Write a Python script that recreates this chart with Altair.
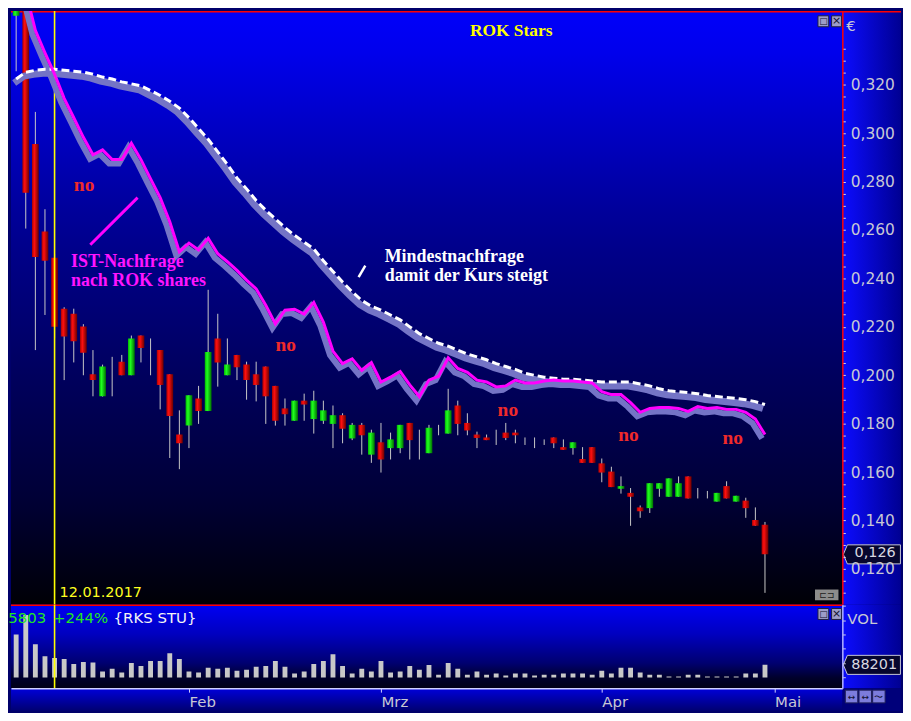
import altair as alt
import pandas as pd

# ---------------- data ----------------
# trading-day index, 0 = 12.01.2017 (cursor line)
days = list(range(-4, 75))

opens = [0.3485, 0.3537, 0.2955, 0.2594, 0.2485, 0.2275, 0.2254, 0.2201, 0.2004, 0.1913,
         0.2000, 0.2056, 0.2000, 0.2164, 0.2080, 0.2104, 0.2004, 0.1755, 0.1792, 0.1904,
         0.1852, 0.2152, 0.2000, 0.2084, 0.2044, 0.2004, 0.2036, 0.1956, 0.1863, 0.1812,
         0.1895, 0.1819, 0.1812, 0.1799, 0.1835, 0.1739, 0.1795, 0.1672, 0.1723, 0.1699,
         0.1699, 0.1803, 0.1720, 0.1678, 0.1770, 0.1759, 0.1875, 0.1803, 0.1755, 0.1743,
         0.1740, 0.1763, 0.1763, 0.1730, 0.1720, 0.1725, 0.1743, 0.1703, 0.1699, 0.1654,
         0.1703, 0.1636, 0.1602, 0.1531, 0.1514, 0.1454, 0.1451, 0.1531, 0.1498, 0.1498,
         0.1582, 0.1510, 0.1505, 0.1478, 0.1542, 0.1478, 0.1482, 0.1402, 0.1382]
highs = [0.3565, 0.3553, 0.3088, 0.2686, 0.2502, 0.2281, 0.2275, 0.2211, 0.2104, 0.2044,
         0.2076, 0.2084, 0.2164, 0.2164, 0.2152, 0.2104, 0.2004, 0.1855, 0.1917, 0.1956,
         0.2353, 0.2254, 0.2152, 0.2084, 0.2056, 0.2056, 0.2036, 0.1956, 0.1904, 0.1895,
         0.1924, 0.1936, 0.1895, 0.1875, 0.1843, 0.1803, 0.1803, 0.1775, 0.1803, 0.1763,
         0.1795, 0.1803, 0.1775, 0.1795, 0.1795, 0.1944, 0.1895, 0.1843, 0.1767, 0.1755,
         0.1775, 0.1803, 0.1775, 0.1743, 0.1743, 0.1735, 0.1743, 0.1735, 0.1723, 0.1703,
         0.1703, 0.1656, 0.1622, 0.1582, 0.1534, 0.1462, 0.1554, 0.1554, 0.1574, 0.1582,
         0.1582, 0.1534, 0.1522, 0.1514, 0.1562, 0.1502, 0.1494, 0.1454, 0.1394]
lows = [0.3256, 0.2606, 0.2104, 0.2249, 0.2152, 0.1980, 0.2053, 0.2000, 0.1913, 0.1912,
        0.1913, 0.2000, 0.2000, 0.2053, 0.2000, 0.1859, 0.1658, 0.1612, 0.1699, 0.1799,
        0.1852, 0.1953, 0.2000, 0.1980, 0.1899, 0.1892, 0.1799, 0.1792, 0.1792, 0.1812,
        0.1812, 0.1759, 0.1799, 0.1699, 0.1719, 0.1732, 0.1672, 0.1638, 0.1598, 0.1652,
        0.1678, 0.1652, 0.1652, 0.1678, 0.1752, 0.1759, 0.1752, 0.1752, 0.1699, 0.1732,
        0.1712, 0.1732, 0.1719, 0.1712, 0.1699, 0.1712, 0.1699, 0.1692, 0.1672, 0.1638,
        0.1638, 0.1558, 0.1538, 0.1511, 0.1378, 0.1411, 0.1431, 0.1498, 0.1498, 0.1498,
        0.1491, 0.1491, 0.1491, 0.1478, 0.1491, 0.1478, 0.1411, 0.1378, 0.1101]
closes = [0.3545, 0.2754, 0.2489, 0.2473, 0.2200, 0.2160, 0.2140, 0.2093, 0.1980, 0.2036,
          0.2000, 0.2000, 0.2152, 0.2113, 0.2080, 0.1960, 0.1832, 0.1719, 0.1917, 0.1852,
          0.2096, 0.2053, 0.2044, 0.2033, 0.1980, 0.1960, 0.1913, 0.1812, 0.1839, 0.1895,
          0.1879, 0.1895, 0.1855, 0.1835, 0.1779, 0.1795, 0.1752, 0.1763, 0.1652, 0.1735,
          0.1795, 0.1732, 0.1720, 0.1783, 0.1770, 0.1855, 0.1799, 0.1772, 0.1741, 0.1732,
          0.1740, 0.1741, 0.1752, 0.1730, 0.1720, 0.1725, 0.1719, 0.1692, 0.1723, 0.1638,
          0.1638, 0.1598, 0.1538, 0.1542, 0.1498, 0.1438, 0.1554, 0.1554, 0.1574, 0.1554,
          0.1491, 0.1510, 0.1505, 0.1514, 0.1491, 0.1502, 0.1451, 0.1378, 0.1260]
volumes = [300000, 436000, 233000, 149000, 136000, 129000, 95000, 109000, 104000, 41000,
           61000, 34000, 102000, 81000, 115000, 115000, 170000, 129000, 41000, 34000,
           68000, 61000, 68000, 47000, 54000, 75000, 81000, 115000, 75000, 27000,
           41000, 95000, 115000, 163000, 81000, 27000, 61000, 41000, 115000, 34000,
           41000, 81000, 54000, 88000, 20000, 102000, 61000, 20000, 41000, 20000,
           27000, 14000, 27000, 27000, 14000, 20000, 20000, 27000, 27000, 27000,
           20000, 47000, 27000, 68000, 68000, 34000, 20000, 20000, 7000, 7000,
           20000, 20000, 7000, 7000, 7000, 7000, 27000, 27000, 88201]
# "IST-Nachfrage" indicator (magenta)
ist = [None, 0.3585, 0.3425, 0.3332, 0.3244, 0.3144, 0.3064, 0.2983, 0.2911, 0.2931,
       0.2891, 0.2891, 0.2959, 0.2891, 0.2811, 0.2734, 0.2634, 0.2510, 0.2546, 0.2518,
       0.2566, 0.2502, 0.2469, 0.2433, 0.2393, 0.2357, 0.2289, 0.2212, 0.2269, 0.2273,
       0.2253, 0.2301, 0.2220, 0.2100, 0.2048, 0.2068, 0.2020, 0.2052, 0.1972, 0.1992,
       0.2016, 0.1960, 0.1912, 0.1980, 0.1996, 0.2072, 0.2028, 0.2012, 0.1980, 0.1972,
       0.1952, 0.1956, 0.1980, 0.1968, 0.1968, 0.1976, 0.1980, 0.1976, 0.1976, 0.1972,
       0.1968, 0.1932, 0.1920, 0.1920, 0.1887, 0.1847, 0.1863, 0.1867, 0.1867, 0.1863,
       0.1851, 0.1871, 0.1863, 0.1867, 0.1859, 0.1859, 0.1847, 0.1819, 0.1755]
# "Mindestnachfrage" indicator (white dashed)
mindest = [0.3224, 0.3252, 0.3260, 0.3264, 0.3264, 0.3260, 0.3256, 0.3252, 0.3244, 0.3232,
           0.3224, 0.3212, 0.3204, 0.3196, 0.3176, 0.3156, 0.3132, 0.3104, 0.3064, 0.3019,
           0.2975, 0.2923, 0.2871, 0.2815, 0.2770, 0.2722, 0.2682, 0.2646, 0.2610, 0.2578,
           0.2550, 0.2522, 0.2473, 0.2429, 0.2385, 0.2345, 0.2309, 0.2285, 0.2269, 0.2249,
           0.2229, 0.2200, 0.2172, 0.2152, 0.2132, 0.2120, 0.2104, 0.2088, 0.2076, 0.2064,
           0.2048, 0.2036, 0.2024, 0.2008, 0.2000, 0.1992, 0.1988, 0.1984, 0.1984, 0.1980,
           0.1976, 0.1972, 0.1972, 0.1972, 0.1972, 0.1964, 0.1956, 0.1944, 0.1936, 0.1932,
           0.1928, 0.1924, 0.1916, 0.1912, 0.1908, 0.1904, 0.1899, 0.1891, 0.1879]

month_pos = [14, 34, 57, 75]
month_names = ["Feb", "Mrz", "Apr", "Mai"]
price_ticks = [0.110, 0.115, 0.120, 0.125, 0.130, 0.135, 0.140, 0.145, 0.150, 0.155,
               0.160, 0.165, 0.170, 0.175, 0.180, 0.185, 0.190, 0.195, 0.200, 0.205,
               0.210, 0.215, 0.220, 0.225, 0.230, 0.235, 0.240, 0.245, 0.250, 0.255,
               0.260, 0.265, 0.270, 0.275, 0.280, 0.285, 0.290, 0.295, 0.300, 0.305,
               0.310, 0.315, 0.320, 0.325, 0.330, 0.335]
vol_ticks = [0, 100000, 200000, 300000, 400000, 500000]

no_i = [2.01, 23.02, 46.15, 58.72, 69.58]
no_p = [0.2787, 0.2124, 0.1855, 0.1751, 0.1739]
ist_lines = ["IST-Nachfrage", "nach ROK shares"]
ist_text_i = [1.71, 1.71]
ist_text_p = [0.2469, 0.2389]
min_lines = ["Mindestnachfrage", "damit der Kurs steigt"]
min_text_i = [34.39, 34.39]
min_text_p = [0.2489, 0.2409]

# ---------------- layout ----------------
SX, SY = 895 / 911, 705 / 721
W, HP, HV, HD, RA = 836, 597, 84, 23, 59


def px(v):
    return round(v * SX, 1)


def py(v):
    return round(v * SY, 1)


def vy(v):
    return round((v - 611) * SY, 1)


def grad(stops, horizontal=False):
    return {"gradient": "linear",
            "stops": [{"offset": o, "color": c} for o, c in stops],
            "x1": 0, "y1": 0, "x2": 1 if horizontal else 0, "y2": 0 if horizontal else 1}


PRICE_BG = grad([(0, "#0000fa"), (0.07, "#0000ec"), (0.33, "#00009c"), (0.41, "#000088"),
                 (0.61, "#00005e"), (0.82, "#000036"), (1, "#000006")])
AXIS_BG = grad([(0, "#0c0cff"), (1, "#000092")], horizontal=True)
VOL_BG = grad([(0, "#0000f4"), (0.35, "#0000c0"), (0.7, "#000070"), (0.88, "#00002a"), (1, "#000016")])
DATE_BG = grad([(0, "#0000dc"), (1, "#000070")])
RED_G = grad([(0, "#a80000"), (0.35, "#ff1010"), (1, "#6a0000")], horizontal=True)
GREEN_G = grad([(0, "#00b400"), (0.35, "#20ff20"), (1, "#007000")], horizontal=True)
SHADOW = "#7474c6"
LABEL_C = "#c8c8d4"

xs = alt.Scale(domain=[-4.0217, 81.54], nice=False, zero=False)
ps = alt.Scale(domain=[0.10523, 0.35051], nice=False, zero=False)
vs = alt.Scale(domain=[-74600, 508900], nice=False, zero=False)

price_axis = alt.Axis(orient="right", values=price_ticks, title=None, grid=False,
                      labelExpr="(round(datum.value*1000) % 20 == 0) ? replace(format(datum.value, '.3f'), '.', ',') : ''",
                      tickSize=3, tickColor="#d8d8e8", domainColor="#ff0000", domainWidth=1.5,
                      labelColor=LABEL_C, labelFont="DejaVu Sans", labelFontSize=15.5,
                      labelPadding=5, labelFlush=False, labelOverlap=False, zindex=1)
month_expr = " : ".join(f"datum.value == {p} ? '{n}'" for p, n in zip(month_pos, month_names)) + " : ''"
vol_x_axis = alt.Axis(orient="bottom", values=month_pos, labelExpr=month_expr, title=None, grid=False,
                      labelAlign="left", labelBaseline="top", labelColor=LABEL_C, labelFont="DejaVu Sans",
                      labelFontSize=15, labelPadding=2, tickSize=4, tickColor="#d0d0ff",
                      domainColor="#d0d0ff", domainWidth=1.5, labelFlush=False, labelOverlap=False, zindex=1)
vol_y_axis = alt.Axis(orient="right", values=vol_ticks, labels=False, title=None, grid=False,
                      tickSize=3, tickColor="#d0d0e0", domainColor="#b4b4ff", domainWidth=1.5, zindex=1)

XP = alt.X("i:Q", scale=xs, axis=None)
XV = alt.X("i:Q", scale=xs, axis=vol_x_axis)


def PY(f):
    return alt.Y(f"{f}:Q", scale=ps, axis=price_axis)


def VY(f):
    return alt.Y(f"{f}:Q", scale=vs, axis=vol_y_axis)


one = pd.DataFrame({"k": [0]})


def rect(x0, x1, y0, y1, color, **kw):
    return alt.Chart(one).mark_rect(color=color, **kw).encode(
        x=alt.value(x0), x2=alt.value(x1), y=alt.value(y0), y2=alt.value(y1))


def hline(x0, x1, y, color, w):
    return alt.Chart(one).mark_rule(color=color, strokeWidth=w).encode(
        x=alt.value(x0), x2=alt.value(x1), y=alt.value(y))


def label(x, y, text, **kw):
    return alt.Chart(one).mark_text(**kw).encode(x=alt.value(x), y=alt.value(y), text=alt.value(text))


cdf = pd.DataFrame({"i": days, "o": opens, "h": highs, "l": lows, "c": closes,
                    "v": volumes, "ist": ist, "mn": mindest})

# ---------------- price panel ----------------
wicks = alt.Chart(cdf).mark_rule(color="#c8c8c8", strokeWidth=1, clip=True).encode(
    x=XP, y=PY("l"), y2=alt.Y2("h:Q"))
red_bodies = alt.Chart(cdf).transform_filter("datum.c < datum.o").mark_bar(
    size=6.8, color=RED_G, clip=True).encode(x=XP, y=PY("o"), y2=alt.Y2("c:Q"))
green_bodies = alt.Chart(cdf).transform_filter("datum.c > datum.o").mark_bar(
    size=6.8, color=GREEN_G, clip=True).encode(x=XP, y=PY("o"), y2=alt.Y2("c:Q"))

w_shadow = alt.Chart(cdf).mark_line(color=SHADOW, strokeWidth=7, xOffset=-2, yOffset=4, clip=True).encode(
    x=XP, y=PY("mn"))
i_shadow = alt.Chart(cdf).mark_line(color=SHADOW, strokeWidth=6, xOffset=-3, yOffset=4, clip=True).encode(
    x=XP, y=PY("ist"))
w_line = alt.Chart(cdf).mark_line(color="#ffffff", strokeWidth=3, strokeDash=[8, 4], clip=True).encode(
    x=XP, y=PY("mn"))
i_line = alt.Chart(cdf).mark_line(color="#ff00ff", strokeWidth=3, clip=True).encode(
    x=XP, y=PY("ist"))

ptr = pd.DataFrame({"i": [3.72, 31.67], "i2": [8.65, 32.37], "p": [0.2539, 0.2405],
                    "p2": [0.2734, 0.2453], "col": ["m", "w"]})
ptr_m = alt.Chart(ptr).transform_filter("datum.col == 'm'").mark_rule(color="#ff00ff", strokeWidth=3).encode(
    x=XP, x2=alt.X2("i2:Q"), y=PY("p"), y2=alt.Y2("p2:Q"))
ptr_w = alt.Chart(ptr).transform_filter("datum.col == 'w'").mark_rule(color="#ffffff", strokeWidth=2.5).encode(
    x=XP, x2=alt.X2("i2:Q"), y=PY("p"), y2=alt.Y2("p2:Q"))

no_df = pd.DataFrame({"i": no_i, "p": no_p, "t": ["no"] * len(no_i)})
no_txt = alt.Chart(no_df).mark_text(font="Liberation Serif", fontWeight="bold", fontSize=19.5,
                                    color="#f02a2a", align="left", baseline="middle").encode(
    x=XP, y=PY("p"), text="t:N")
ist_df = pd.DataFrame({"i": ist_text_i, "p": ist_text_p, "t": ist_lines})
ist_txt = alt.Chart(ist_df).mark_text(font="Liberation Serif", fontWeight="bold", fontSize=18,
                                      color="#ff14ff", align="left", baseline="middle").encode(
    x=XP, y=PY("p"), text="t:N")
min_df = pd.DataFrame({"i": min_text_i, "p": min_text_p, "t": min_lines})
min_txt = alt.Chart(min_df).mark_text(font="Liberation Serif", fontWeight="bold", fontSize=18,
                                      color="#ffffff", align="left", baseline="middle").encode(
    x=XP, y=PY("p"), text="t:N")

cursor_p = alt.Chart(one).mark_rule(color="#ffff00", strokeWidth=1.6).encode(
    x=alt.X(datum=0, scale=xs, axis=None), y=alt.value(0), y2=alt.value(HP))
date_lbl = alt.Chart(one).mark_text(font="DejaVu Sans", fontSize=14.5, color="#ffff20", align="left",
                                    baseline="middle", dx=5).encode(
    x=alt.X(datum=0, scale=xs, axis=None), y=alt.value(py(599)), text=alt.value("12.01.2017"))

title = label(px(512), py(21), "ROK Stars", font="Liberation Serif", fontWeight="bold", fontSize=17.5,
              color="#ffff00", align="center", baseline="middle")
euro = label(W + 4, py(15.5), "€", font="DejaVu Sans", fontSize=15, color=LABEL_C,
             align="left", baseline="middle")

CALLOUT = "M-1,0 L-0.86,-0.33 L0.98,-0.33 L0.98,0.33 L-0.86,0.33 Z"
last_df = pd.DataFrame({"p": [closes[-1]], "t": [f"{closes[-1]:.3f}".replace(".", ",")]})
p_box = alt.Chart(last_df).mark_point(shape=CALLOUT, size=3364, filled=True, color="#06062e",
                                      stroke="#c8c8d8", strokeWidth=1, opacity=1).encode(
    x=alt.value(W + 30), y=PY("p"))
p_box_txt = alt.Chart(last_df).mark_text(font="DejaVu Sans", fontSize=14.5, color="#d8d8e0",
                                         align="center", baseline="middle", dy=-1).encode(
    x=alt.value(W + 33), y=PY("p"), text="t:N")


def icons(y0):
    a = rect(px(826), px(837), y0, y0 + 11, "#9c9cc8", stroke="#202040", strokeWidth=1)
    b = rect(px(840), px(851) - 1, y0, y0 + 11, "#9c9cc8", stroke="#202040", strokeWidth=1)
    ta = label(px(831.5), y0 + 5.5, "□", font="DejaVu Sans", fontSize=9, color="#101030",
               align="center", baseline="middle")
    tb = label(px(845.5) - 0.5, y0 + 5.5, "×", font="DejaVu Sans", fontSize=11, color="#101030",
               align="center", baseline="middle")
    return [a, b, ta, tb]


plug = [rect(px(823), px(847), py(595), py(606), "#8c8c8c"),
        label(px(835), py(600.5), "⊏⊐", font="DejaVu Sans", fontSize=9, color="#202020",
              align="center", baseline="middle")]

price = alt.layer(
    rect(0, W, 0, HP, PRICE_BG),
    rect(W, W + RA, 0, HP, AXIS_BG),
    hline(0, W + RA, 0.75, "#ff0000", 1.5),
    wicks, red_bodies, green_bodies,
    cursor_p,
    w_shadow, i_shadow, w_line, i_line,
    ptr_m, ptr_w, no_txt, ist_txt, min_txt,
    date_lbl, title, euro,
    *icons(py(5)), *plug,
    p_box, p_box_txt,
).properties(width=W, height=HP)

# ---------------- volume panel ----------------
vol_bars = alt.Chart(cdf).mark_bar(size=4.9, color="#c8c8c8", clip=True).encode(x=XV, y=VY("v"))
cursor_v = alt.Chart(one).mark_rule(color="#ffff00", strokeWidth=1.6).encode(
    x=alt.X(datum=0, scale=xs, axis=vol_x_axis), y=alt.value(0), y2=alt.value(HV))
hdr = [
    label(px(36), vy(625), "5803", font="DejaVu Sans", fontSize=15, color="#22e622",
          align="right", baseline="middle"),
    label(px(43), vy(625), "+244%", font="DejaVu Sans", fontSize=15, color="#22e622",
          align="left", baseline="middle"),
    label(px(105), vy(625), "{RKS STU}", font="DejaVu Sans", fontSize=15, color="#f4f4f4",
          align="left", baseline="middle"),
    label(W + 5, vy(626), "VOL", font="DejaVu Sans", fontSize=15, color=LABEL_C,
          align="left", baseline="middle"),
]
vol_last = pd.DataFrame({"v": [volumes[-1]], "t": [str(volumes[-1])]})
v_box = alt.Chart(vol_last).mark_point(shape=CALLOUT, size=3364, filled=True, color="#06062e",
                                       stroke="#c8c8d8", strokeWidth=1, opacity=1).encode(
    x=alt.value(W + 30), y=VY("v"))
v_box_txt = alt.Chart(vol_last).mark_text(font="DejaVu Sans", fontSize=14.5, color="#d8d8e0",
                                          align="center", baseline="middle").encode(
    x=alt.value(W + 32), y=VY("v"), text="t:N")
buttons = []
for k, sym in enumerate(["↔", "↔", "〜"]):
    x0 = px(854 + 14 * k)
    buttons.append(rect(x0, x0 + 12.5, vy(699), vy(712), "#7c7cdc", stroke="#20205a", strokeWidth=1))
    buttons.append(label(x0 + 6.2, vy(705.5), sym, font="DejaVu Sans", fontSize=9, color="#101030",
                         align="center", baseline="middle"))

vol = alt.layer(
    rect(0, W, 0, HV, VOL_BG),
    rect(W, W + RA, 0, HV, AXIS_BG),
    rect(W, W + RA, HV, HV + HD, "#00007a"),
    rect(0, W, HV, HV + HD, DATE_BG),
    hline(0, W, 0.5, "#ff0000", 1.5),
    vol_bars, cursor_v, *hdr,
    *icons(vy(615)), *buttons,
    v_box, v_box_txt,
).properties(width=W, height=HV)

chart = alt.VConcatChart(vconcat=[price, vol], spacing=0, bounds="flush", padding=0,
                         background="#00006a").configure_view(stroke=None)

chart.save("out.html", embed_options={"renderer": "svg", "actions": False})
